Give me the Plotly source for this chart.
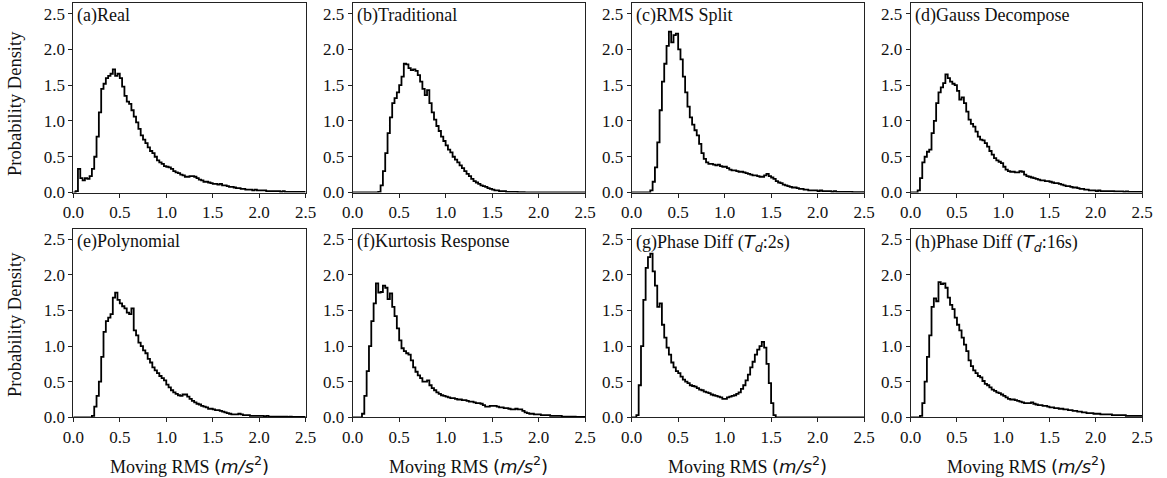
import numpy as np
import plotly.graph_objects as go

# ---------------- data (probability density, bins of 0.025 m/s^2 from 0 to 2.5) ----------------
bin_width = 0.025
x_min, x_max = 0.0, 2.5

titles = ["(a)Real", "(b)Traditional", "(c)RMS Split", "(d)Gauss Decompose",
          "(e)Polynomial", "(f)Kurtosis Response",
          "(g)Phase Diff (<span style='font-family:DejaVu Sans'><i>T</i><sub><i>d</i></sub></span>:2s)",
          "(h)Phase Diff (<span style='font-family:DejaVu Sans'><i>T</i><sub><i>d</i></sub></span>:16s)"]

real = [0, 0.02, 0.33, 0.2, 0.17, 0.2, 0.19, 0.23, 0.33, 0.5,
        0.78, 1.12, 1.45, 1.52, 1.6, 1.63, 1.66, 1.72, 1.63, 1.66,
        1.6, 1.48, 1.35, 1.27, 1.24, 1.15, 1.06, 0.98, 0.89, 0.8,
        0.74, 0.69, 0.63, 0.58, 0.55, 0.5, 0.45, 0.42, 0.4, 0.37,
        0.36, 0.35, 0.33, 0.3, 0.28, 0.27, 0.25, 0.24, 0.22, 0.22,
        0.23, 0.23, 0.22, 0.2, 0.18, 0.17, 0.15, 0.15, 0.14, 0.13,
        0.12, 0.12, 0.11, 0.12, 0.1, 0.1, 0.09, 0.08, 0.08, 0.07,
        0.06, 0.06, 0.05, 0.05, 0.04, 0.04, 0.04, 0.03, 0.04, 0.03,
        0.03, 0.03, 0.03, 0.02, 0.02, 0.02, 0.02, 0.02, 0.02, 0.01,
        0.02, 0.01, 0.01, 0.01, 0.01, 0.01, 0.01, 0.01, 0.01, 0.01]

traditional = [0, 0, 0, 0, 0, 0, 0, 0, 0, 0,
               0, 0.01, 0.1, 0.3, 0.55, 0.83, 1.05, 1.25, 1.32, 1.4,
               1.5, 1.62, 1.8, 1.79, 1.74, 1.71, 1.72, 1.7, 1.64, 1.55,
               1.45, 1.36, 1.43, 1.25, 1.12, 1.02, 0.93, 0.86, 0.78, 0.72,
               0.66, 0.6, 0.56, 0.5, 0.46, 0.42, 0.38, 0.34, 0.3, 0.26,
               0.23, 0.19, 0.16, 0.14, 0.12, 0.1, 0.09, 0.08, 0.06, 0.05,
               0.04, 0.03, 0.03, 0.02, 0.02, 0.02, 0.01, 0.01, 0.01, 0.01,
               0.01, 0.005, 0.005, 0.005, 0, 0, 0, 0, 0, 0,
               0, 0, 0, 0, 0, 0, 0, 0, 0, 0,
               0, 0, 0, 0, 0, 0, 0, 0, 0, 0]

rms_split = [0, 0, 0, 0, 0, 0, 0, 0, 0.03, 0.15,
             0.35, 0.7, 1.15, 1.55, 1.8, 2.05, 2.25, 2.1, 2.2, 2.22,
             2.0, 1.86, 1.62, 1.4, 1.2, 1.05, 0.95, 0.87, 0.8, 0.68,
             0.55, 0.47, 0.42, 0.4, 0.4, 0.39, 0.38, 0.39, 0.37, 0.36,
             0.36, 0.34, 0.32, 0.31, 0.31, 0.3, 0.29, 0.29, 0.28, 0.27,
             0.26, 0.25, 0.24, 0.24, 0.23, 0.22, 0.22, 0.24, 0.26, 0.23,
             0.21, 0.19, 0.16, 0.14, 0.13, 0.11, 0.1, 0.09, 0.08, 0.07,
             0.07, 0.06, 0.05, 0.05, 0.04, 0.04, 0.03, 0.03, 0.03, 0.03,
             0.02, 0.03, 0.02, 0.02, 0.02, 0.02, 0.01, 0.02, 0.01, 0.01,
             0.01, 0.01, 0.01, 0.01, 0.01, 0.005, 0.005, 0.005, 0.005, 0.005]

gauss_decompose = [0, 0, 0, 0.03, 0.2, 0.42, 0.5, 0.57, 0.6, 0.83,
                   1.0, 1.25, 1.4, 1.47, 1.53, 1.65, 1.6, 1.55, 1.52, 1.5,
                   1.42, 1.3, 1.33, 1.25, 1.13, 1.02, 0.96, 0.92, 0.85, 0.78,
                   0.74, 0.73, 0.69, 0.64, 0.58, 0.53, 0.48, 0.45, 0.43, 0.41,
                   0.36, 0.32, 0.3, 0.29, 0.29, 0.28, 0.28, 0.3, 0.29, 0.25,
                   0.23, 0.22, 0.21, 0.2, 0.19, 0.18, 0.17, 0.17, 0.16, 0.16,
                   0.15, 0.14, 0.13, 0.13, 0.12, 0.11, 0.1, 0.09, 0.09, 0.08,
                   0.07, 0.07, 0.06, 0.05, 0.05, 0.04, 0.04, 0.03, 0.03, 0.03,
                   0.02, 0.03, 0.02, 0.02, 0.02, 0.02, 0.02, 0.02, 0.015, 0.015,
                   0.015, 0.015, 0.01, 0.015, 0.01, 0.01, 0.01, 0.01, 0.01, 0.01]

polynomial = [0, 0, 0, 0, 0, 0, 0, 0, 0.02, 0.15,
              0.3, 0.5, 0.85, 1.2, 1.35, 1.4, 1.45, 1.68, 1.75, 1.65,
              1.6, 1.56, 1.53, 1.47, 1.45, 1.53, 1.22, 1.15, 1.05, 1.0,
              0.94, 0.9, 0.82, 0.77, 0.7, 0.66, 0.62, 0.58, 0.55, 0.52,
              0.46, 0.42, 0.38, 0.35, 0.33, 0.31, 0.3, 0.32, 0.32, 0.29,
              0.26, 0.23, 0.21, 0.19, 0.18, 0.16, 0.15, 0.14, 0.12, 0.12,
              0.11, 0.1, 0.1, 0.09, 0.08, 0.07, 0.06, 0.05, 0.04, 0.04,
              0.04, 0.05, 0.04, 0.03, 0.03, 0.03, 0.02, 0.02, 0.02, 0.02,
              0.02, 0.02, 0.01, 0.02, 0.01, 0.01, 0.01, 0.01, 0.01, 0.01,
              0.01, 0.01, 0.005, 0.01, 0.005, 0.005, 0.005, 0.005, 0.005, 0.005]

kurtosis_response = [0, 0, 0, 0, 0.05, 0.3, 0.65, 1.0, 1.35, 1.6,
                     1.88, 1.75, 1.76, 1.85, 1.82, 1.66, 1.74, 1.55, 1.42, 1.25,
                     1.08, 0.97, 0.93, 0.9, 0.88, 0.8, 0.7, 0.64, 0.59, 0.55,
                     0.5, 0.5, 0.52, 0.45, 0.41, 0.38, 0.35, 0.33, 0.31, 0.3,
                     0.29, 0.28, 0.27, 0.27, 0.26, 0.25, 0.25, 0.24, 0.24, 0.23,
                     0.22, 0.22, 0.21, 0.2, 0.2, 0.19, 0.17, 0.15, 0.15, 0.16,
                     0.16, 0.16, 0.15, 0.14, 0.14, 0.13, 0.13, 0.12, 0.11, 0.11,
                     0.12, 0.11, 0.11, 0.09, 0.07, 0.06, 0.05, 0.05, 0.04, 0.04,
                     0.04, 0.03, 0.03, 0.03, 0.03, 0.02, 0.02, 0.02, 0.02, 0.02,
                     0.01, 0.01, 0.01, 0.01, 0.01, 0.01, 0.005, 0.005, 0.005, 0.005]

phase_diff_2s = [0, 0, 0.03, 0.45, 1.0, 1.65, 2.1, 2.25, 2.3, 2.05,
                 1.85, 1.55, 1.6, 1.3, 1.12, 0.98, 0.88, 0.77, 0.7, 0.65,
                 0.62, 0.57, 0.53, 0.5, 0.48, 0.45, 0.44, 0.43, 0.41, 0.39,
                 0.38, 0.36, 0.35, 0.34, 0.32, 0.31, 0.3, 0.29, 0.28, 0.26,
                 0.26, 0.28, 0.29, 0.3, 0.31, 0.33, 0.35, 0.4, 0.45, 0.52,
                 0.6, 0.7, 0.78, 0.88, 0.95, 1.0, 1.06, 0.98, 0.75, 0.48,
                 0.2, 0.03, 0, 0, 0, 0, 0, 0, 0, 0,
                 0, 0, 0, 0, 0, 0, 0, 0, 0, 0,
                 0, 0, 0, 0, 0, 0, 0, 0, 0, 0,
                 0, 0, 0, 0, 0, 0, 0, 0, 0, 0]

phase_diff_16s = [0, 0, 0, 0, 0.02, 0.2, 0.5, 0.85, 1.15, 1.55,
                  1.67, 1.63, 1.9, 1.87, 1.88, 1.82, 1.68, 1.58, 1.52, 1.4,
                  1.3, 1.22, 1.12, 1.02, 0.93, 0.8, 0.72, 0.66, 0.62, 0.58,
                  0.56, 0.51, 0.47, 0.45, 0.42, 0.39, 0.37, 0.35, 0.34, 0.32,
                  0.3, 0.28, 0.26, 0.25, 0.25, 0.24, 0.23, 0.22, 0.21, 0.2,
                  0.2, 0.2, 0.21, 0.19, 0.18, 0.17, 0.17, 0.16, 0.16, 0.15,
                  0.14, 0.14, 0.13, 0.13, 0.12, 0.12, 0.11, 0.11, 0.1, 0.1,
                  0.09, 0.09, 0.08, 0.08, 0.07, 0.07, 0.06, 0.06, 0.06, 0.05,
                  0.05, 0.05, 0.04, 0.04, 0.04, 0.04, 0.04, 0.03, 0.03, 0.03,
                  0.03, 0.03, 0.03, 0.02, 0.02, 0.02, 0.02, 0.02, 0.02, 0.02]

series = [real, traditional, rms_split, gauss_decompose,
          polynomial, kurtosis_response, phase_diff_2s, phase_diff_16s]

tick_vals = [0.0, 0.5, 1.0, 1.5, 2.0, 2.5]
tick_text = ["0.0", "0.5", "1.0", "1.5", "2.0", "2.5"]

x_title = "Moving RMS <span style='font-family:DejaVu Sans'>(<i>m/s</i><sup>2</sup>)</span>"
y_title = "Probability Density"

# ---------------- layout geometry ----------------
W, H = 1167, 478
col_px = [(73.3, 305.7), (352.7, 585.0), (631.7, 864.0), (910.7, 1142.0)]
row_px = [(3.3, 192.5), (229.0, 417.3)]  # top, bottom pixel
ytitle_center_px = [104, 325]
x_domains = [[a / W, b / W] for a, b in col_px]
y_domains = [[1 - b / H, 1 - a / H] for a, b in row_px]

SERIF = "Liberation Serif, Times New Roman, serif"
fig = go.Figure()
annotations = []
layout_axes = {}

for i, vals in enumerate(series):
    r, c = divmod(i, 4)
    k = i + 1
    xs = "" if k == 1 else str(k)
    n = len(vals)
    edges = list(np.round(np.linspace(x_min, x_min + bin_width * n, n + 1), 4))
    fig.add_trace(go.Scatter(
        x=edges, y=list(vals) + [vals[-1]],
        mode="lines", line=dict(color="black", width=1.8, shape="hv"),
        xaxis="x" + xs, yaxis="y" + xs, showlegend=False, hoverinfo="skip"))
    common = dict(showline=True, mirror=True, linecolor="#222", linewidth=1,
                  ticks="outside", ticklen=4, tickwidth=1, tickcolor="#222",
                  showgrid=False, zeroline=False, automargin=False,
                  tickfont=dict(family=SERIF, size=17, color="#111"))
    layout_axes["xaxis" + xs] = dict(common, domain=x_domains[c], anchor="y" + xs,
                                     range=[0, 2.5], tickvals=tick_vals, ticktext=tick_text)
    layout_axes["yaxis" + xs] = dict(common, domain=y_domains[r], anchor="x" + xs,
                                     range=[0, 2.645], tickvals=tick_vals, ticktext=tick_text)
    annotations.append(dict(text=titles[i], xref="x" + xs + " domain", yref="y" + xs + " domain",
                            x=0, y=1, xanchor="left", yanchor="top", xshift=2, yshift=0,
                            showarrow=False, font=dict(family=SERIF, size=18, color="#111")))
    if r == 1:
        annotations.append(dict(
            text=x_title,
            xref="paper", yref="paper", x=sum(x_domains[c]) / 2, y=1 - 465 / H,
            xanchor="center", yanchor="middle", showarrow=False,
            font=dict(family=SERIF, size=18, color="#111")))
    if c == 0:
        annotations.append(dict(
            text=y_title, textangle=-90,
            xref="paper", yref="paper", x=15 / W, y=1 - ytitle_center_px[r] / H,
            xanchor="center", yanchor="middle", showarrow=False,
            font=dict(family=SERIF, size=18.5, color="#111")))

fig.update_layout(
    width=W, height=H, margin=dict(l=0, r=0, t=0, b=0),
    paper_bgcolor="white", plot_bgcolor="white",
    annotations=annotations, **layout_axes)

fig.write_html("out.html")
